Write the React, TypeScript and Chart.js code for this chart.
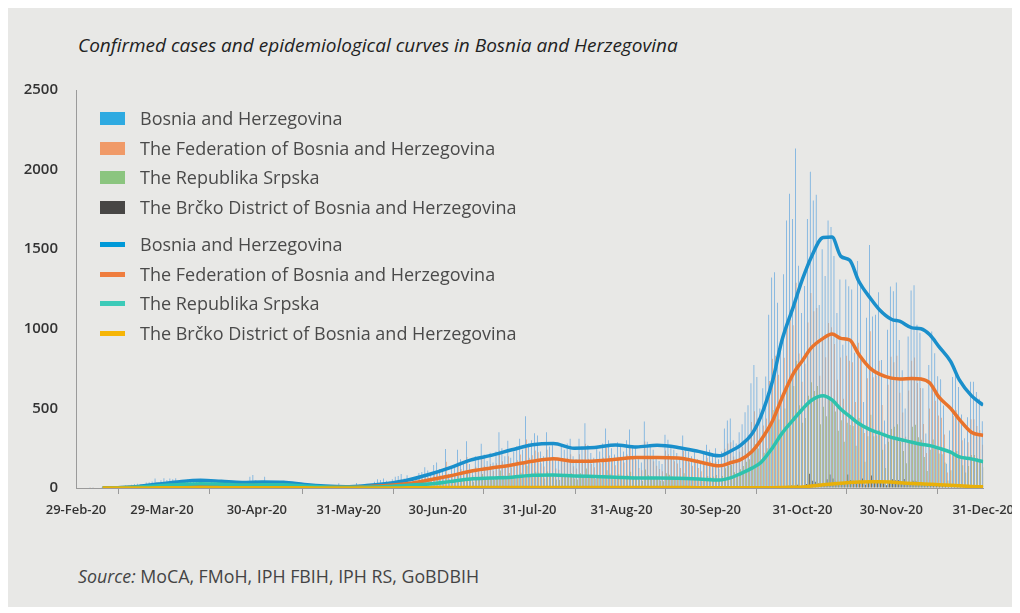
import React, { useEffect, useRef } from "react";
import { Chart, registerables } from "chart.js";

Chart.register(...registerables);

// x positions are day offsets from 29-Feb-2020
const tickDays = [0, 29, 61, 92, 122, 153, 184, 214, 245, 275, 306];
const tickLabels = [
  "29-Feb-20", "29-Mar-20", "30-Apr-20", "31-May-20", "30-Jun-20", "31-Jul-20",
  "31-Aug-20", "30-Sep-20", "31-Oct-20", "30-Nov-20", "31-Dec-20",
];

// Daily confirmed cases, 29 Feb .. 31 Dec 2020 (one line per month)
const bihDaily = [
  0,
  0,0,0,0,2,1,0,0,2,1,5,3,4,2,6,6,16,14,20,25,27,20,13,35,36,41,60,38,48,62,50,
  60,55,62,38,45,30,53,44,48,40,56,31,22,30,40,35,45,36,24,22,19,45,38,30,27,20,36,70,82,50,
  30,25,70,35,28,40,38,25,30,22,15,20,18,12,10,8,6,7,10,9,6,8,5,4,6,8,10,30,12,9,14,
  10,14,32,20,18,22,16,24,40,55,50,60,45,40,55,70,75,88,60,80,52,48,65,95,100,130,110,90,145,160,
  120,110,245,90,130,140,240,180,160,293,150,120,200,190,278,210,170,222,160,230,350,250,200,297,190,230,260,310,240,450,280,
  300,344,329,230,200,350,260,287,180,170,266,240,280,310,200,180,310,260,407,270,220,190,255,230,280,373,300,250,210,287,260,
  230,300,367,270,250,180,160,418,290,260,240,200,170,150,335,303,260,240,220,180,330,250,230,200,224,180,150,220,272,240,
  220,250,180,230,373,424,437,300,280,350,400,476,520,658,772,698,500,626,700,1088,1323,1355,1164,900,1342,1680,1848,1690,2133,1396,1100,
  1269,1690,1987,1806,1842,1150,1500,1331,1680,1640,1458,1100,1310,900,1310,1268,1247,850,1426,1268,540,1070,1526,1078,1088,1230,804,424,994,1266,
  1236,1291,930,740,500,951,1241,1274,1025,975,626,343,772,983,846,702,683,519,152,361,698,753,635,462,312,445,667,667,603,560,420,
];

const fbihDaily = [
  0,
  0,0,0,0,2,1,0,0,1,1,2,1,2,1,2,3,6,6,8,10,11,8,5,14,15,16,24,16,20,25,20,
  24,22,25,15,18,12,21,18,19,16,22,12,9,12,16,14,18,14,10,9,8,18,15,12,11,8,14,28,33,20,
  12,10,28,14,11,16,15,10,12,9,6,8,7,5,4,3,2,3,4,4,2,3,2,2,2,3,4,12,5,4,6,
  6,8,19,12,11,13,10,14,24,33,30,36,27,24,33,42,45,53,36,48,31,29,39,57,60,78,66,54,87,96,
  78,70,165,58,86,95,160,120,106,195,98,80,134,126,185,140,112,150,106,155,235,168,134,200,128,155,175,210,162,305,190,
  205,236,225,155,135,240,178,196,122,115,182,165,190,212,136,122,212,178,278,184,150,130,174,156,192,255,204,170,143,196,178,
  160,210,258,190,175,126,112,292,203,182,168,140,120,105,235,212,182,168,154,126,232,175,161,140,157,126,105,154,190,168,
  146,165,120,152,246,280,288,198,185,228,258,305,330,414,482,436,312,392,436,672,812,830,712,550,818,1020,1120,1022,1290,845,668,
  780,1040,1225,1110,1130,705,930,822,1036,1010,905,680,820,560,830,800,790,540,912,808,345,690,985,695,705,800,522,275,648,825,
  790,830,598,475,322,612,800,820,660,628,402,220,500,636,548,455,442,336,98,234,452,488,412,300,202,288,432,432,390,362,272,
];

const rsDaily = [
  0,
  0,0,0,0,0,0,0,0,1,0,3,2,2,1,4,3,10,8,12,15,16,12,8,21,20,25,34,22,27,35,30,
  35,31,35,23,26,17,30,25,28,24,32,18,13,17,22,20,25,21,14,12,11,26,22,17,15,11,21,40,46,29,
  18,15,41,21,17,24,23,15,18,13,9,12,11,7,6,5,4,4,6,5,4,5,3,2,4,5,6,18,7,5,8,
  4,6,13,8,7,9,6,10,16,22,20,24,18,16,22,28,30,35,24,32,21,19,26,38,40,52,44,36,58,64,
  40,38,78,30,42,43,76,58,52,94,50,38,63,61,88,67,55,69,52,72,110,79,63,94,59,72,82,96,75,140,86,
  90,102,98,70,60,104,78,86,54,51,79,71,84,93,60,54,92,77,122,81,66,56,76,69,83,112,90,75,63,86,77,
  64,84,102,75,70,50,44,116,80,72,67,56,47,42,93,84,72,67,61,50,92,70,64,56,62,50,42,61,76,67,
  72,82,58,76,124,140,145,99,93,118,138,165,180,230,275,248,178,222,250,395,490,500,430,332,500,630,690,640,800,520,410,
  440,580,665,610,640,400,510,450,560,545,480,360,425,290,410,395,390,265,440,385,165,325,460,325,330,365,240,125,290,370,
  385,400,290,232,155,296,385,398,318,303,195,107,240,305,262,217,212,160,47,112,216,233,197,143,97,138,207,207,187,174,130,
];

const brckoDaily = [
  0,
  0,0,0,0,0,0,0,0,0,0,0,0,0,0,0,0,0,0,0,0,0,0,0,0,1,0,2,0,1,2,0,
  1,2,2,0,1,1,2,1,1,0,2,1,0,1,2,1,2,1,0,1,0,1,2,1,1,1,1,2,3,1,
  1,0,2,0,0,1,1,0,1,0,0,0,0,0,0,0,0,0,0,0,0,0,0,0,0,0,0,0,0,0,0,
  0,0,0,0,0,0,0,0,0,1,0,1,0,0,1,0,1,2,0,1,0,1,1,2,1,3,2,1,3,4,
  3,2,4,1,3,3,4,4,3,5,2,2,3,2,4,3,2,4,2,3,5,3,2,4,2,3,3,5,3,6,4,
  3,4,3,2,2,4,3,3,2,2,3,3,3,4,2,2,4,3,5,3,2,2,3,3,3,4,3,3,2,3,3,
  2,3,4,3,3,2,2,4,3,3,2,2,2,1,3,3,3,2,2,2,3,3,2,2,2,2,1,2,3,2,
  2,3,2,2,3,4,4,3,2,4,4,5,4,6,8,7,4,6,6,9,12,12,10,8,10,14,16,14,20,12,9,
  25,90,45,40,30,20,30,55,85,60,40,25,35,30,85,50,45,30,45,60,20,40,78,45,40,48,30,18,42,55,
  48,50,40,57,22,35,45,42,35,32,22,14,28,32,30,25,24,18,6,12,22,24,20,15,10,14,18,18,16,15,12,
];

// Epidemiological curves (smoothed), sampled at these day offsets
const lineDays = [9,14,21,28,35,42,49,56,63,70,77,84,91,98,105,112,119,126,133,140,147,154,161,168,175,182,189,196,203,210,217,221,224,228,231,235,238,242,245,248,252,255,258,261,264,268,271,275,278,282,285,288,291,295,298,302,306];
const bihCurve = [0,2,10,25,40,48,42,35,38,36,22,12,8,15,28,50,85,127,175,205,240,272,280,250,255,270,258,268,255,230,202,234,266,340,450,677,920,1141,1310,1450,1574,1576,1455,1430,1300,1190,1120,1060,1046,1006,1000,962,890,795,677,580,520];
const fbihCurve = [0,1,4,10,16,19,18,15,17,14,8,5,4,8,15,28,50,75,105,125,145,168,183,168,170,180,192,192,188,165,139,160,177,230,300,424,560,720,800,880,940,967,940,930,840,750,715,690,685,688,685,660,572,500,430,350,330];
const rsCurve = [0,1,6,14,22,27,24,19,20,20,13,6,4,6,10,18,25,40,57,63,68,80,82,76,72,68,63,63,62,57,50,65,89,125,160,255,340,430,495,550,580,553,495,450,405,365,345,318,305,287,275,266,250,225,195,183,165];
const brckoCurve = [0,0,0,1,1,2,2,1,1,1,1,0,0,0,0,1,2,3,3,3,3,3,3,3,3,3,3,3,3,2,2,2,2,2,2,2,3,5,7,12,20,25,30,34,37,40,40,38,33,28,26,24,21,17,14,10,8];

const seriesNames = [
  "Bosnia and Herzegovina",
  "The Federation of Bosnia and Herzegovina",
  "The Republika Srpska",
  "The Brčko District of Bosnia and Herzegovina",
];

const yTicks = [0, 500, 1000, 1500, 2000, 2500];

const FONT = '"Open Sans", "Noto Sans", sans-serif';
const barColors = ["#5aa2de", "#e3976a", "#8aab68", "#2a2a2a"];
const legendBarColors = ["#2eaae1", "#f09a68", "#8bc57f", "#474645"];
const lineColors = ["#1a8fcb", "#e8732c", "#2ec2ad", "#e8b00a"];
const legendLineColors = ["#0099d8", "#ef7d3e", "#3ccab8", "#f6b506"];

export default function App() {
  const ref = useRef<HTMLCanvasElement>(null);

  useEffect(() => {
    const dailies = [bihDaily, fbihDaily, rsDaily, brckoDaily];
    const curves = [bihCurve, fbihCurve, rsCurve, brckoCurve];
    const barSets = dailies.map((arr, k) => ({
      type: "bar" as const,
      label: seriesNames[k],
      data: arr.map((y, x) => ({ x, y })),
      backgroundColor: barColors[k],
      borderWidth: 0,
      barPercentage: 1,
      categoryPercentage: 0.9,
      order: 10,
    }));
    const lineSets = curves.map((arr, k) => ({
      type: "line" as const,
      label: seriesNames[k],
      data: lineDays.map((x, i) => ({ x, y: arr[i] })),
      borderColor: lineColors[k],
      backgroundColor: lineColors[k],
      borderWidth: 3.5,
      pointRadius: 0,
      tension: 0.4,
      cubicInterpolationMode: "monotone" as const,
      order: 4 - k,
    }));
    const chart = new Chart(ref.current!, {
      type: "bar",
      data: { datasets: [...barSets, ...lineSets] as any },
      options: {
        responsive: false,
        animation: false,
        layout: { padding: { top: 18, right: 31, left: 0, bottom: 0 } },
        plugins: { legend: { display: false }, tooltip: { enabled: false } },
        scales: {
          x: {
            type: "linear",
            min: 0,
            max: 306,
            offset: false,
            grid: { drawOnChartArea: false, drawTicks: true, tickLength: 6, color: "#9a9a9a" },
            border: { color: "#9a9a9a", width: 1 },
            ticks: {
              autoSkip: false,
              maxRotation: 0,
              padding: 8,
              color: "#333",
              font: { family: FONT, size: 13, weight: "600" },
              callback: (v: any) => {
                const i = tickDays.indexOf(Number(v));
                return i >= 0 ? tickLabels[i] : "";
              },
            },
            afterBuildTicks: (s: any) => {
              s.ticks = tickDays.map((v) => ({ value: v }));
            },
            afterFit: (s: any) => {
              s.height = 60;
            },
          },
          y: {
            min: 0,
            max: 2500,
            grid: { drawOnChartArea: false, drawTicks: false },
            border: { color: "#9a9a9a", width: 1 },
            ticks: {
              padding: 18,
              color: "#333",
              font: { family: FONT, size: 15, weight: "600" },
              callback: (v: any) => String(v),
            },
            afterBuildTicks: (s: any) => {
              s.ticks = yTicks.map((v) => ({ value: v }));
            },
            afterFit: (s: any) => {
              s.width = 68;
            },
          },
        },
      } as any,
    });
    return () => chart.destroy();
  }, []);

  const barRows = [110, 140, 169, 199];
  const lineRows = [236, 266, 295, 325];

  return (
    <div
      style={{
        position: "relative",
        width: 1006,
        height: 599,
        background: "#e8e8e6",
        fontFamily: FONT,
        overflow: "hidden",
      }}
    >
      <div
        style={{
          position: "absolute",
          left: 70,
          top: 24,
          fontStyle: "italic",
          fontSize: 19,
          lineHeight: "26px",
          color: "#222",
          whiteSpace: "nowrap",
        }}
      >
        Confirmed cases and epidemiological curves in Bosnia and Herzegovina
      </div>
      <canvas
        ref={ref}
        width={1014}
        height={485}
        style={{ position: "absolute", left: 0, top: 55, width: 1014, height: 485 }}
      />
      {seriesNames.map((name, k) => (
        <div
          key={"b" + k}
          style={{ position: "absolute", left: 92, top: barRows[k] - 11, height: 22, display: "flex", alignItems: "center" }}
        >
          <span style={{ display: "inline-block", width: 25, height: 13, background: legendBarColors[k] }} />
          <span style={{ marginLeft: 15, fontSize: 18, color: "#4a4a4a", whiteSpace: "nowrap", lineHeight: "22px" }}>{name}</span>
        </div>
      ))}
      {seriesNames.map((name, k) => (
        <div
          key={"l" + k}
          style={{ position: "absolute", left: 92, top: lineRows[k] - 11, height: 22, display: "flex", alignItems: "center" }}
        >
          <span style={{ display: "inline-block", width: 25, height: 5, background: legendLineColors[k] }} />
          <span style={{ marginLeft: 15, fontSize: 18, color: "#4a4a4a", whiteSpace: "nowrap", lineHeight: "22px" }}>{name}</span>
        </div>
      ))}
      <div
        style={{
          position: "absolute",
          left: 70,
          top: 556,
          fontSize: 17.8,
          lineHeight: "24px",
          color: "#444",
          whiteSpace: "nowrap",
        }}
      >
        <i>Source:</i> MoCA, FMoH, IPH FBIH, IPH RS, GoBDBIH
      </div>
    </div>
  );
}
